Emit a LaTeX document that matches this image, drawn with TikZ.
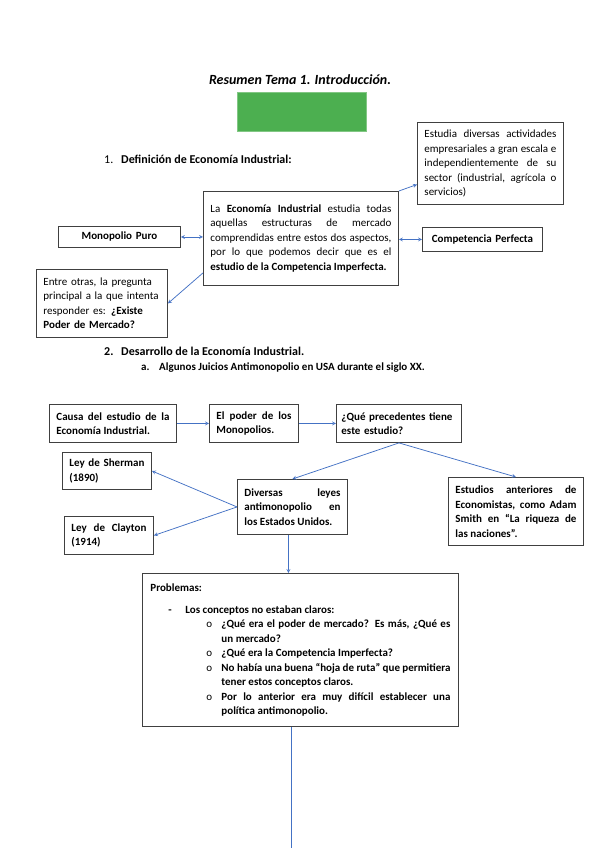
\documentclass[tikz,border=0pt]{standalone}
\usepackage{fontspec}
\setmainfont{Carlito}
\usetikzlibrary{arrows}
\definecolor{azul}{HTML}{4472C4}
\definecolor{verde}{RGB}{76,175,80}

\begin{document}
\begin{tikzpicture}[x=1pt,y=-1pt,>=stealth,
    caja/.style={draw=black!75,line width=0.9pt,anchor=north west,inner xsep=7pt,inner ysep=0pt,align=justify,font=\fontsize{11}{14.5}\selectfont},
    negrita/.style={caja,font=\fontsize{11}{14.5}\selectfont\bfseries},
    titulo/.style={anchor=base west,inner sep=0pt,font=\fontsize{12}{14.5}\selectfont\bfseries},
    flecha/.style={every edge/.style={draw=azul,line width=0.75pt}}]
    \useasboundingbox (0,0) rectangle (599,848);

    % cabecera
    \node[anchor=base,inner sep=0pt,font=\fontsize{14}{16}\selectfont\bfseries\itshape] (1) at (300,85) {Resumen Tema 1. Introducción.};
    \node[anchor=north west,fill=verde,draw=verde!70,minimum width=129pt,minimum height=39pt,inner sep=0pt] (2) at (237,92) {};
    \node[titulo] (3) at (104,163) {\makebox[17pt][l]{\mdseries 1.}Definición de Economía Industrial:};

    % apartado 1
    \node[caja,text width=132pt,minimum height=82pt] (4) at (417,122) {Estudia diversas actividades\linebreak empresariales a gran escala e\linebreak independientemente de su\linebreak sector (industrial, agrícola o\linebreak servicios)};
    \node[caja,text width=181pt,minimum height=94pt] (5) at (203,191) {La \textbf{Economía Industrial} estudia todas\linebreak aquellas estructuras de mercado\linebreak comprendidas entre estos dos aspectos,\linebreak por lo que podemos decir que es el\linebreak \textbf{estudio de la Competencia Imperfecta.}\par\vspace*{16pt}};
    \node[negrita,align=center,text width=108pt,minimum height=21pt] (6) at (58,226) {Monopolio Puro};
    \node[negrita,align=center,text width=106pt,minimum height=24pt] (7) at (422,227) {Competencia Perfecta};
    \node[caja,align=left,text width=117pt,minimum height=68pt] (8) at (36,269) {Entre otras, la pregunta\\ principal a la que intenta\\ responder es: \textbf{¿Existe}\\ \textbf{Poder de Mercado?}};

    \path[flecha]
        (5.north east) edge[->] (4.196)
        (6.east) edge[<->] (6.east -| 5.west)
        (7.west -| 5.east) edge[<->] (7.west)
        ([yshift=13pt]5.south west) edge[->] (8.east)
        ;

    % apartado 2
    \node[titulo] (9) at (104,355) {\makebox[17pt][l]{2.}Desarrollo de la Economía Industrial.};
    \node[titulo,font=\fontsize{11}{14.5}\selectfont\bfseries] (10) at (141,370) {\makebox[18pt][l]{a.}Algunos Juicios Antimonopolio en USA durante el siglo XX.};

    \node[negrita,text width=113pt,minimum height=38pt] (11) at (49,404) {Causa del estudio de la\linebreak Economía Industrial.};
    \node[negrita,text width=75pt,minimum height=38pt] (12) at (209,404) {El poder de los\linebreak Monopolios.};
    \node[negrita,align=left,inner xsep=5pt,text width=115pt,minimum height=38pt] (13) at (336,404) {¿Qué precedentes tiene\\ este estudio?};
    \node[negrita,text width=75pt,minimum height=37pt] (14) at (62,452) {Ley de Sherman\linebreak (1890)};
    \node[negrita,text width=75pt,minimum height=38pt] (15) at (64,516) {Ley de Clayton\linebreak (1914)};
    \node[negrita,text width=96pt,minimum height=55pt] (16) at (237,479) {Diversas leyes\linebreak antimonopolio en\linebreak los Estados Unidos.};
    \node[negrita,text width=121pt,minimum height=68pt] (17) at (448,477) {Estudios anteriores de\linebreak Economistas, como Adam\linebreak Smith en “La riqueza de\linebreak las naciones”.};
    \node[negrita,inner xsep=8pt,text width=300pt,minimum height=153pt] (18) at (142,573) {Problemas:\par\vspace{7.5pt}
        {\leftskip=35pt\noindent\llap{\makebox[17pt][l]{-}}Los conceptos no estaban claros:\par}
        {\leftskip=71pt
        \noindent\llap{\makebox[15pt][l]{\mdseries o}}¿Qué era el poder de mercado? Es más, ¿Qué es\linebreak un mercado?\par
        \noindent\llap{\makebox[15pt][l]{\mdseries o}}¿Qué era la Competencia Imperfecta?\par
        \noindent\llap{\makebox[15pt][l]{\mdseries o}}No había una buena “hoja de ruta” que permitiera\linebreak tener estos conceptos claros.\par
        \noindent\llap{\makebox[15pt][l]{\mdseries o}}Por lo anterior era muy difícil establecer una\linebreak política antimonopolio.\par}};

    \coordinate (d) at ([xshift=-4pt]16.south);
    \coordinate (fin) at (291,848);
    \path[flecha]
        (11.east) edge[->] (12.west)
        (12.east) edge[->] (13.west)
        (13.south) edge[->] (16.north)
        (13.south) edge[->] (17.north)
        (16.west) edge[->] (14.east)
        (16.west) edge[->] (15.east)
        (d) edge[->] (d |- 18.north)
        (18.south -| fin) edge (fin)
        ;
\end{tikzpicture}
\end{document}
